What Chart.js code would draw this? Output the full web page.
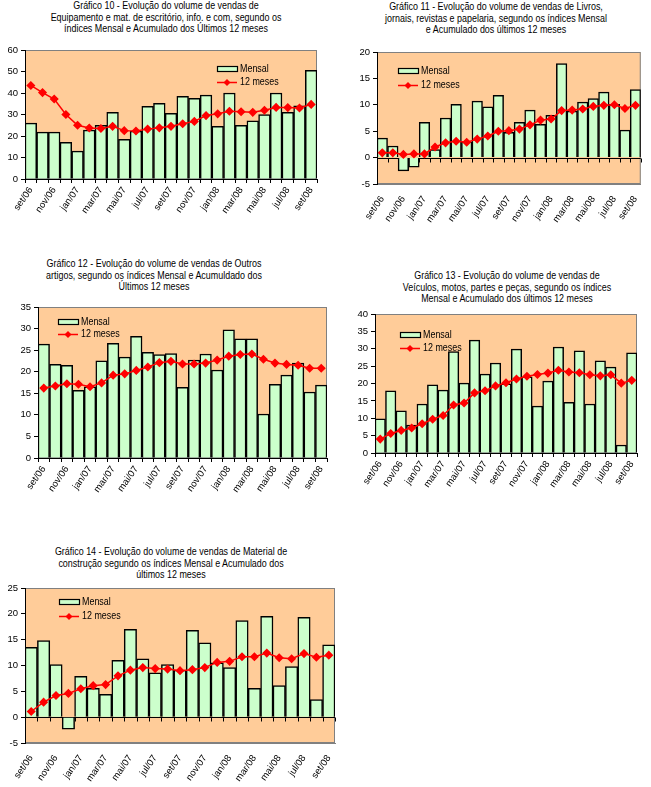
<!DOCTYPE html>
<html>
<head>
<meta charset="utf-8">
<script src="https://cdn.jsdelivr.net/npm/chart.js@4/dist/chart.umd.min.js"></script>
<style>
body { margin: 0; background: #fff; width: 651px; height: 787px; position: relative; overflow: hidden;
       font-family: "Liberation Sans", Arial, sans-serif; }
.title { position: absolute; font-size: 10.5px; line-height: 11.5px; text-align: center; white-space: nowrap;
         color: #000; transform: translateX(-50%) scaleX(0.85); }
canvas { position: absolute; }
</style>
</head>
<body>

<div class="title" style="left:166px;top:0px">Gráfico 10 - Evolução do volume de vendas de<br>Equipamento e mat. de escritório, info. e com, segundo os<br>índices Mensal e Acumulado dos Últimos 12 meses</div>
<div class="title" style="left:496px;top:1px">Gráfico 11 - Evolução do volume de vendas de Livros,<br>jornais, revistas e papelaria, segundo os índices Mensal<br>e Acumulado dos últimos 12 meses</div>
<div class="title" style="left:154px;top:258px">Gráfico 12 - Evolução do volume de vendas de Outros<br>artigos, segundo os índices Mensal e Acumuldado dos<br>Últimos 12 meses</div>
<div class="title" style="left:507px;top:270px">Gráfico 13 - Evolução do volume de vendas de<br>Veículos, motos, partes e peças, segundo os índices<br>Mensal e Acumulado dos últimos 12 meses</div>
<div class="title" style="left:171px;top:546px">Gráfico 14 - Evolução do volume de vendas de Material de<br>construção segundo os índices Mensal e Acumulado dos<br>últimos 12 meses</div>

<canvas id="g10"></canvas>
<canvas id="g11"></canvas>
<canvas id="g12"></canvas>
<canvas id="g13"></canvas>
<canvas id="g14"></canvas>

<script>
const meses = ["set/06", "out/06", "nov/06", "dez/06", "jan/07", "fev/07", "mar/07", "abr/07", "mai/07",
               "jun/07", "jul/07", "ago/07", "set/07", "out/07", "nov/07", "dez/07", "jan/08", "fev/08",
               "mar/08", "abr/08", "mai/08", "jun/08", "jul/08", "ago/08", "set/08"];

// Gráfico 10 - Equipamento e mat. de escritório
const mensal10 = [26, 21.8, 21.8, 17, 13, 22.7, 25, 31, 18.5, 22.3, 33.8, 35.2, 30.5, 38.5, 37.5, 39,
                  24.5, 40, 25, 27, 30, 40, 31, 34, 50.5];
const acum10 = [43.5, 40.2, 37.2, 30, 25, 23.7, 23.5, 24.5, 22.5, 22.3, 23.2, 23.8, 24.5, 25.7, 26.8, 29.5,
                30.3, 31.5, 31.3, 31, 32, 33.3, 33.2, 33, 34.7];

// Gráfico 11 - Livros, jornais, revistas e papelaria
const mensal11 = [3.7, 2.2, -2.5, -1.8, 6.7, 1.5, 7.5, 10.1, 3, 10.7, 9.6, 11.8, 4.8, 6.7, 9, 6.3,
                  8, 17.8, 8.8, 10.5, 11.2, 12.4, 10.1, 5.2, 12.9];
const acum11 = [0.9, 0.9, 0.6, 0.7, 0.7, 2, 2.8, 3.1, 2.9, 3.5, 4.1, 5, 5.1, 5.4, 6.2, 7.1,
                7.3, 8.9, 9, 9.2, 9.7, 9.9, 10, 9.3, 9.9];

// Gráfico 12 - Outros artigos
const mensal12 = [26.4, 21.7, 21.5, 15.7, 16.5, 22.5, 26.6, 23.4, 28.2, 24.5, 24, 24.2, 16.4, 22.7, 24.1, 20.4,
                  29.7, 27.6, 27.6, 10.2, 17.1, 19.2, 22, 15.3, 16.9];
const acum12 = [16.2, 16.7, 17.2, 17.1, 16.5, 17.4, 19.2, 19.5, 20.3, 21.1, 22.1, 22.4, 21.8, 21.8, 22, 22.7,
                23.6, 24, 24.1, 22.9, 22, 21.7, 21.5, 20.8, 20.8];

// Gráfico 13 - Veículos, motos, partes e peças
const mensal13 = [9.8, 17.9, 12.1, 8, 14.1, 19.6, 18.1, 29.2, 20.1, 32.5, 22.7, 25.9, 19.9, 29.9, 21.9, 13.5,
                  20.7, 30.5, 14.6, 29.4, 14.1, 26.5, 24.7, 2.3, 28.8];
const acum13 = [4, 5.6, 6.5, 7.2, 8.4, 9.7, 10.8, 13.8, 14.4, 17.3, 17.9, 19.3, 20.2, 21.3, 22.1, 22.6,
                23, 23.8, 23.3, 23.1, 22.5, 22.2, 22.5, 20.1, 20.9];

// Gráfico 14 - Material de construção
const mensal14 = [13.5, 14.8, 10.2, -2.3, 7.9, 5.6, 4.4, 11, 17, 11.3, 8.6, 10.2, 9.1, 16.8, 14.4, 10.5,
                  9.6, 18.7, 5.6, 19.5, 6.1, 9.8, 19.3, 3.4, 14];
const acum14 = [1.1, 2.9, 4.2, 4.6, 5.5, 6.1, 6.3, 8, 9.1, 9.6, 9.4, 9.3, 9, 9.2, 9.6, 10.6,
                10.8, 11.7, 11.7, 12.4, 11.5, 11.3, 12.3, 11.6, 12];

Chart.defaults.font.family = '"Liberation Sans", Arial, sans-serif';
Chart.defaults.color = '#000';

const plotFrame = {
    id: 'plotFrame',
    beforeDraw(chart) {
        const { ctx, chartArea: a } = chart;
        ctx.save();
        ctx.fillStyle = '#FFCC99';
        ctx.fillRect(a.left, a.top, a.right - a.left, a.bottom - a.top);
        ctx.strokeStyle = '#808080';
        ctx.lineWidth = 1;
        ctx.strokeRect(a.left + 0.5, a.top + 0.5, a.right - a.left - 1, a.bottom - a.top - 1);
        ctx.restore();
    },
    beforeDatasetsDraw(chart, args, opts) {
        if (!opts.zero) return;
        const { ctx, chartArea: a } = chart;
        const y = Math.round(chart.scales.y.getPixelForValue(0)) + 0.5;
        const n = meses.length;
        const step = (a.right - a.left) / n;
        ctx.save();
        ctx.strokeStyle = '#000';
        ctx.lineWidth = 1;
        ctx.beginPath();
        ctx.moveTo(a.left, y);
        ctx.lineTo(a.right, y);
        for (let i = 0; i <= n; i++) {
            const x = Math.round(a.left + i * step) + 0.5;
            ctx.moveTo(x, y);
            ctx.lineTo(x, y + 4);
        }
        ctx.stroke();
        ctx.restore();
    },
    afterDatasetsDraw(chart, args, opts) {
        const { ctx, chartArea: a } = chart;
        const x = a.left + opts.dx;
        const y = a.top + opts.dy;
        const y2 = y + 2.5 + opts.gap;
        ctx.save();
        ctx.fillStyle = '#CCFFCC';
        ctx.fillRect(x, y, 20, 5);
        ctx.strokeStyle = '#000';
        ctx.lineWidth = 1.2;
        ctx.strokeRect(x + 0.5, y + 0.5, 20, 5);
        ctx.strokeStyle = '#FF0000';
        ctx.lineWidth = 1.5;
        ctx.beginPath();
        ctx.moveTo(x, y2);
        ctx.lineTo(x + 20, y2);
        ctx.stroke();
        ctx.fillStyle = '#FF0000';
        ctx.beginPath();
        ctx.moveTo(x + 10, y2 - 3.5);
        ctx.lineTo(x + 13.5, y2);
        ctx.lineTo(x + 10, y2 + 3.5);
        ctx.lineTo(x + 6.5, y2);
        ctx.closePath();
        ctx.fill();
        ctx.fillStyle = '#000';
        ctx.font = '10.5px "Liberation Sans", Arial, sans-serif';
        ctx.textBaseline = 'middle';
        [['Mensal', y + 3], ['12 meses', y2]].forEach(([t, ty]) => {
            ctx.save();
            ctx.translate(x + 23, ty);
            ctx.scale(0.85, 1);
            ctx.fillText(t, 0, 0);
            ctx.restore();
        });
        ctx.restore();
    }
};

function drawChart(id, box, area, yMin, yMax, yStep, mensal, acum, legend, zero) {
    const canvas = document.getElementById(id);
    canvas.style.left = box.left + 'px';
    canvas.style.top = box.top + 'px';
    canvas.style.width = box.width + 'px';
    canvas.style.height = box.height + 'px';
    canvas.width = box.width;
    canvas.height = box.height;

    const yWidth = area.l - box.left;
    const xHeight = box.top + box.height - area.b;

    new Chart(canvas, {
        type: 'bar',
        data: {
            labels: meses,
            datasets: [
                {
                    type: 'line',
                    label: '12 meses',
                    data: acum,
                    borderColor: '#FF0000',
                    borderWidth: 1.5,
                    pointStyle: 'rectRot',
                    pointRadius: 3.5,
                    pointBackgroundColor: '#FF0000',
                    pointBorderColor: '#FF0000',
                    tension: 0,
                    order: 0
                },
                {
                    type: 'bar',
                    label: 'Mensal',
                    data: mensal,
                    backgroundColor: '#CCFFCC',
                    borderColor: '#000',
                    borderWidth: 1.5,
                    barPercentage: 1,
                    categoryPercentage: 1,
                    order: 1
                }
            ]
        },
        options: {
            responsive: false,
            animation: false,
            events: [],
            layout: {
                padding: { top: area.t - box.top, right: box.left + box.width - area.r, left: 0, bottom: 0 }
            },
            plugins: {
                legend: { display: false },
                tooltip: { enabled: false },
                plotFrame: { dx: legend.dx, dy: legend.dy, gap: legend.gap, zero: zero }
            },
            scales: {
                x: {
                    grid: { display: !zero, drawOnChartArea: false, color: '#000', tickLength: 4, offset: true },
                    border: { color: zero ? '#808080' : '#000' },
                    ticks: {
                        autoSkip: false,
                        minRotation: 55,
                        maxRotation: 55,
                        padding: zero ? 6 : 2,
                        font: { size: 9.5 },
                        callback: (v, i) => i % 2 === 0 ? meses[i] : ''
                    },
                    afterFit: s => { s.height = xHeight; }
                },
                y: {
                    min: yMin,
                    max: yMax,
                    grid: { drawOnChartArea: false, color: '#000', tickLength: 4 },
                    border: { color: '#000' },
                    ticks: { stepSize: yStep, padding: 3, font: { size: 9.5 } },
                    afterFit: s => { s.width = yWidth; }
                }
            }
        },
        plugins: [plotFrame]
    });
}

drawChart('g10', { left: 0, top: 40, width: 330, height: 200 }, { l: 25, r: 317, t: 50, b: 179 },
          0, 60, 10, mensal10, acum10, { dx: 192, dy: 16, gap: 14 }, false);
drawChart('g11', { left: 335, top: 40, width: 316, height: 200 }, { l: 377, r: 642, t: 52, b: 184 },
          -5, 20, 5, mensal11, acum11, { dx: 21, dy: 16, gap: 15 }, true);
drawChart('g12', { left: 0, top: 295, width: 335, height: 220 }, { l: 38, r: 327, t: 307, b: 458 },
          0, 35, 5, mensal12, acum12, { dx: 20, dy: 12, gap: 13 }, false);
drawChart('g13', { left: 335, top: 300, width: 316, height: 210 }, { l: 375, r: 637, t: 314, b: 453 },
          0, 40, 5, mensal13, acum13, { dx: 25, dy: 18, gap: 14 }, false);
drawChart('g14', { left: 0, top: 578, width: 345, height: 209 }, { l: 25, r: 335, t: 588, b: 743 },
          -5, 25, 5, mensal14, acum14, { dx: 34, dy: 11, gap: 15 }, true);
</script>
</body>
</html>
